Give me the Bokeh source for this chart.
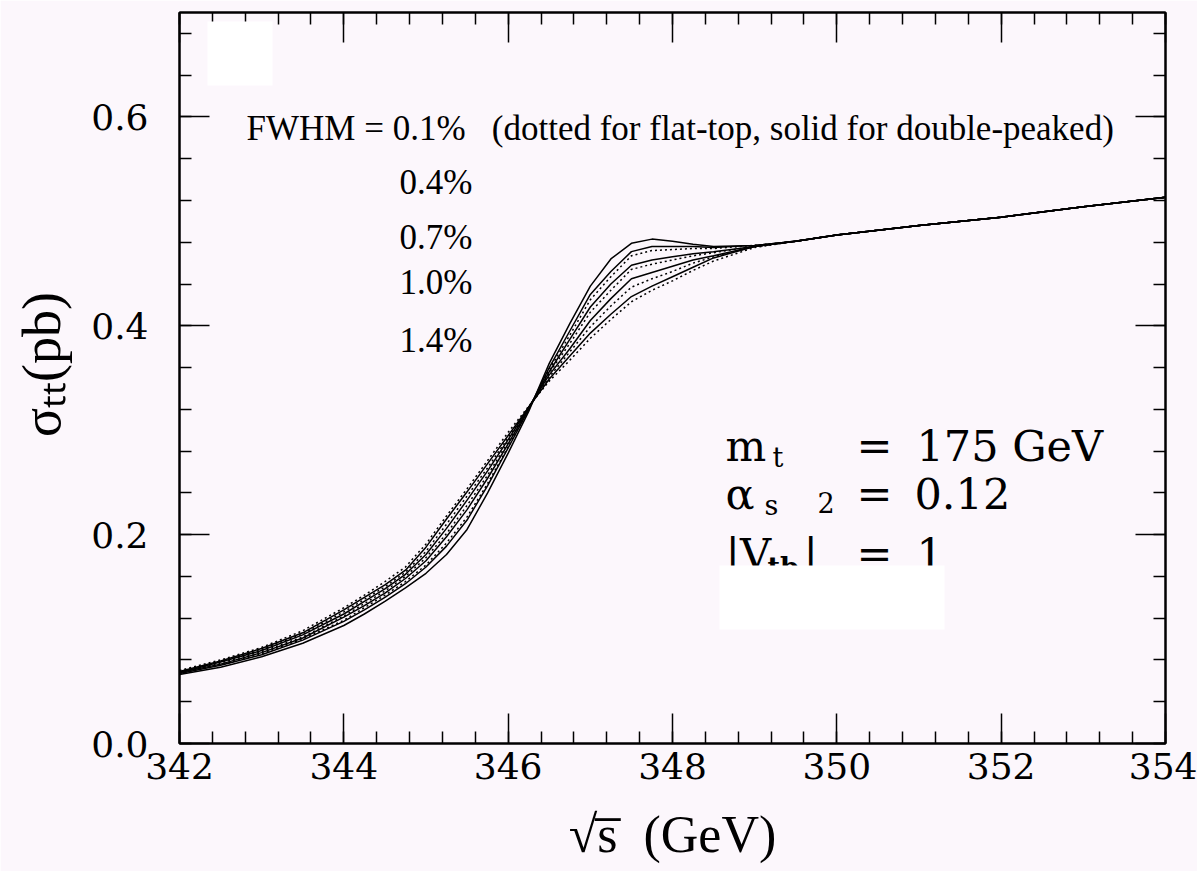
from bokeh.plotting import figure
from bokeh.models import (Range1d, LinearAxis, SingleIntervalTicker, Label,
                          BoxAnnotation, NumeralTickFormatter, CustomJSTickFormatter)
from bokeh.embed import file_html
from bokeh.resources import INLINE

# ---------------- data ----------------
energy = [342.0, 342.5, 343.0, 343.5, 344.0, 344.25, 344.5, 344.75, 345.0, 345.25,
          345.5, 345.75, 346.0, 346.25, 346.5, 346.75, 347.0, 347.25, 347.5, 347.75,
          348.0, 348.25, 348.5, 349.0]
energy_tail = [349.5, 350.0, 351.0, 352.0, 353.0, 354.0]
sigma_tail = [0.481, 0.487, 0.496, 0.504, 0.514, 0.523]

# solid (double-peaked spectrum)
solid_01 = [0.066, 0.073, 0.083, 0.096, 0.113, 0.124, 0.136, 0.149, 0.163, 0.181,
            0.205, 0.240, 0.278, 0.318, 0.364, 0.402, 0.438, 0.464, 0.479, 0.483,
            0.481, 0.478, 0.476, 0.477]
solid_04 = [0.067, 0.075, 0.085, 0.099, 0.117, 0.128, 0.140, 0.153, 0.169, 0.189,
            0.214, 0.247, 0.283, 0.320, 0.360, 0.395, 0.430, 0.452, 0.471, 0.476,
            0.476, 0.476, 0.475, 0.477]
solid_07 = [0.068, 0.076, 0.087, 0.101, 0.121, 0.132, 0.144, 0.158, 0.175, 0.198,
            0.224, 0.254, 0.287, 0.321, 0.356, 0.387, 0.418, 0.440, 0.458, 0.463,
            0.466, 0.469, 0.471, 0.476]
solid_10 = [0.068, 0.078, 0.089, 0.104, 0.124, 0.136, 0.148, 0.162, 0.181, 0.206,
            0.233, 0.261, 0.291, 0.322, 0.353, 0.378, 0.405, 0.426, 0.445, 0.451,
            0.457, 0.463, 0.467, 0.476]
solid_14 = [0.069, 0.079, 0.091, 0.106, 0.128, 0.140, 0.152, 0.166, 0.188, 0.215,
            0.241, 0.268, 0.295, 0.322, 0.349, 0.371, 0.393, 0.411, 0.428, 0.438,
            0.447, 0.456, 0.465, 0.476]
# dotted (flat-top spectrum)
dotted_04 = [0.067, 0.075, 0.086, 0.100, 0.118, 0.130, 0.142, 0.155, 0.171, 0.192,
             0.217, 0.249, 0.284, 0.320, 0.358, 0.391, 0.425, 0.447, 0.467, 0.472,
             0.473, 0.474, 0.474, 0.477]
dotted_07 = [0.068, 0.077, 0.088, 0.102, 0.122, 0.134, 0.146, 0.160, 0.178, 0.201,
             0.228, 0.257, 0.289, 0.321, 0.355, 0.383, 0.413, 0.434, 0.454, 0.459,
             0.463, 0.467, 0.470, 0.476]
dotted_10 = [0.069, 0.078, 0.090, 0.105, 0.126, 0.138, 0.150, 0.164, 0.184, 0.210,
             0.237, 0.264, 0.293, 0.322, 0.351, 0.375, 0.399, 0.419, 0.437, 0.445,
             0.452, 0.460, 0.466, 0.476]
dotted_14 = [0.070, 0.080, 0.092, 0.108, 0.130, 0.142, 0.155, 0.169, 0.191, 0.218,
             0.244, 0.271, 0.298, 0.323, 0.347, 0.367, 0.388, 0.406, 0.423, 0.434,
             0.443, 0.453, 0.462, 0.475]

fwhm_labels = ["FWHM = 0.1%\u00a0\u00a0\u00a0(dotted for flat-top, solid for double-peaked)",
               "0.4%", "0.7%", "1.0%", "1.4%"]
x_title = "\u221as\u0305\u00a0\u00a0(GeV)"
y_title = "\u00a0\u00a0\u03c3\u209c\u209c(pb)"

# ---------------- figure ----------------
BG = "#FCF7FC"
X0, X1, Y0, Y1 = 342, 354, 0.0, 0.7
FL, FR, FT, FB = 179, 1165, 12, 743   # frame in pixels


def dx(px):
    return X0 + (px - FL) * (X1 - X0) / (FR - FL)


def dy(py):
    return Y0 + (FB - py) * (Y1 - Y0) / (FB - FT)


p = figure(width=1197, height=871, output_backend="svg", toolbar_location=None,
           x_range=Range1d(X0, X1), y_range=Range1d(Y0, Y1),
           min_border_left=FL, min_border_right=1197 - FR,
           min_border_top=FT, min_border_bottom=871 - FB)
p.background_fill_color = BG
p.border_fill_color = BG
p.outline_line_color = "black"
p.outline_line_width = 2
p.grid.visible = False


def style_axis(ax):
    ax.axis_line_width = 2
    ax.major_tick_in = 30
    ax.major_tick_out = 0
    ax.minor_tick_in = 12
    ax.minor_tick_out = 0
    ax.major_tick_line_width = 1.5
    ax.minor_tick_line_width = 1.5
    ax.major_label_text_font = "DejaVu Serif"
    ax.major_label_text_font_size = "36px"
    ax.major_label_text_color = "black"
    ax.axis_label_text_color = "black"


p.xaxis.ticker = SingleIntervalTicker(interval=2, num_minor_ticks=5)
p.yaxis.ticker = SingleIntervalTicker(interval=0.2, num_minor_ticks=5)
p.yaxis.formatter = NumeralTickFormatter(format="0.0")
style_axis(p.xaxis[0])
style_axis(p.yaxis[0])
p.xaxis.major_label_standoff = 9
p.yaxis.major_label_standoff = 31
p.xaxis.axis_label = x_title
p.xaxis.axis_label_text_font = "Liberation Serif"
p.xaxis.axis_label_text_font_style = "normal"
p.xaxis.axis_label_text_font_size = "52px"
p.xaxis.axis_label_standoff = 24
p.yaxis.axis_label = y_title
p.yaxis.axis_label_text_font = "Liberation Serif"
p.yaxis.axis_label_text_font_style = "normal"
p.yaxis.axis_label_text_font_size = "54px"
p.yaxis.axis_label_standoff = 16

blank = CustomJSTickFormatter(code="return ''")
top_ax = LinearAxis(ticker=SingleIntervalTicker(interval=2, num_minor_ticks=5), formatter=blank)
right_ax = LinearAxis(ticker=SingleIntervalTicker(interval=0.2, num_minor_ticks=5), formatter=blank)
style_axis(top_ax)
style_axis(right_ax)
top_ax.major_label_standoff = 0
right_ax.major_label_standoff = 0
top_ax.major_label_text_font_size = "1px"
right_ax.major_label_text_font_size = "1px"
p.add_layout(top_ax, "above")
p.add_layout(right_ax, "right")

# ---------------- curves ----------------
for s in [solid_14, solid_10, solid_07, solid_04, solid_01]:
    p.line(energy + energy_tail, s + sigma_tail, line_color="black", line_width=1.5)
for s in [dotted_14, dotted_10, dotted_07, dotted_04]:
    p.line(energy + energy_tail, s + sigma_tail, line_color="black", line_width=1.5,
           line_dash="2 3")

# ---------------- texts ----------------
def lab(txt, px, py, size, font="DejaVu Serif", style="normal", align="left"):
    p.add_layout(Label(x=dx(px), y=dy(py), text=txt, text_font=font,
                       text_font_size=f"{size}px", text_color="black",
                       text_baseline="alphabetic", text_align=align,
                       text_font_style=style))


lab(fwhm_labels[0], 246, 128, 35, font="Liberation Serif")
for t, py in zip(fwhm_labels[1:], [182, 237, 282, 340]):
    lab(t, 399, py, 35, font="Liberation Serif")

# parameters block
lab("m", 725, 445, 43)
lab("t", 772, 457, 27)
lab("=", 856, 445, 43)
lab("175 GeV", 916, 445, 43)
lab("\u03b1", 725, 493, 43)
lab("s", 764, 505, 27)
lab("=", 856, 493, 43)
lab("0.12", 914, 493, 43)
lab("|V", 725, 553, 43)
lab("tb", 767, 567, 27, style="bold")
lab("|", 803, 553, 43)
lab("2", 817, 502, 27)
lab("=", 856, 553, 43)
lab("1", 916, 553, 43)

# white patches of the original scan
p.add_layout(BoxAnnotation(left=dx(207), right=dx(272), top=dy(21), bottom=dy(85),
                           fill_color="white", fill_alpha=1, line_alpha=0))
p.add_layout(BoxAnnotation(left=dx(719), right=dx(944), top=dy(565), bottom=dy(629),
                           fill_color="white", fill_alpha=1, line_alpha=0))

open("out.html", "w").write(file_html(p, INLINE))
